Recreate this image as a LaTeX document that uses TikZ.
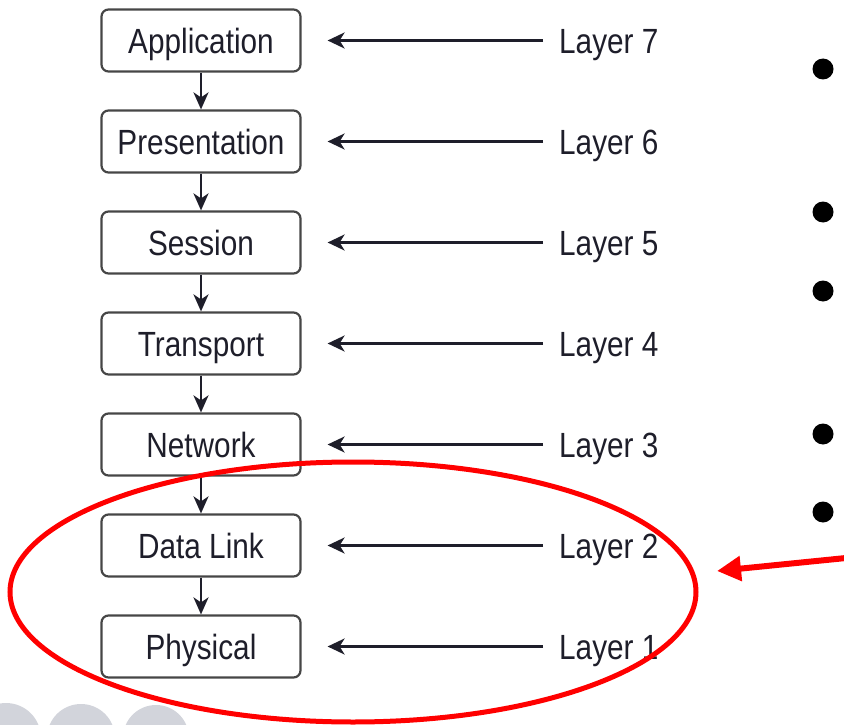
\documentclass[tikz,border=0pt]{standalone}
\usepackage{fontspec}
\setmainfont{Liberation Sans}[FakeStretch=0.85]
\usetikzlibrary{arrows.meta,shapes.geometric}
\definecolor{inkc}{RGB}{30,30,42}
\definecolor{framec}{RGB}{70,70,70}
\definecolor{marker}{RGB}{255,0,0}
\definecolor{faint}{RGB}{210,212,219}
\tikzset{
  x=1pt, y=-1pt,
  layerbox/.style={draw=framec, line width=2.2pt, rounded corners=7pt,
    minimum width=199pt, minimum height=62pt, inner sep=0pt,
    text height=26pt, text depth=0pt, text=inkc, font=\fontsize{35}{35}\selectfont},
  layertag/.style={anchor=west, inner sep=0pt, text height=26pt, text depth=0pt,
    text=inkc, font=\fontsize{35}{35}\selectfont},
  downarrow/.style={draw=inkc, line width=2.4pt, -{Stealth[length=17pt,width=15pt,inset=5pt]}},
  leftarrow/.style={draw=inkc, line width=2.4pt, -{Stealth[length=17pt,width=16pt,inset=5pt]}},
  bulletdot/.style={fill=black, circle, inner sep=0pt, minimum size=21pt},
}
\begin{document}
\begin{tikzpicture}
\useasboundingbox (0,0) rectangle (844,725);
\begin{scope}
  \clip (0,0) rectangle (844,725);
  \fill[faint] (6,738) circle (35);
  \fill[faint] (81,738) circle (34);
  \fill[faint] (156,738) circle (33);
\end{scope}

% protocol stack
\node[layerbox] (b7) at (201,40.5) {Application};
\node[layerbox] (b6) at (201,141.5) {Presentation};
\node[layerbox] (b5) at (201,242.5) {Session};
\node[layerbox] (b4) at (201,343.5) {Transport};
\node[layerbox] (b3) at (201,444.5) {Network};
\node[layerbox] (b2) at (201,545.5) {Data Link};
\node[layerbox] (b1) at (201,646.5) {Physical};

\foreach \a/\b in {b7/b6,b6/b5,b5/b4,b4/b3,b3/b2,b2/b1}
  \draw[downarrow] (\a.south) -- (\b.north);

% layer numbers
\node[layertag] (l7) at (559,40.5) {Layer 7};
\node[layertag] (l6) at (559,141.5) {Layer 6};
\node[layertag] (l5) at (559,242.5) {Layer 5};
\node[layertag] (l4) at (559,343.5) {Layer 4};
\node[layertag] (l3) at (559,444.5) {Layer 3};
\node[layertag] (l2) at (559,545.5) {Layer 2};
\node[layertag] (l1) at (559,646.5) {Layer 1};

\foreach \i in {1,...,7}
  \draw[leftarrow] ([xshift=-16pt]l\i.west) -- ([xshift=26pt]b\i.east);

% highlight of the two lowest layers
\node[draw=marker, line width=5pt, ellipse, minimum width=686pt, minimum height=260pt, inner sep=0pt] (ring) at (353,592) {};

% bullets
\node[bulletdot] (d1) at (823,69) {};
\node[bulletdot] (d2) at (823,212) {};
\node[bulletdot] (d3) at (823,291) {};
\node[bulletdot] (d4) at (823,434) {};
\node[bulletdot] (d5) at (823,512) {};

\coordinate (rs) at (846,558);
\coordinate (re) at (717,571);
\draw[marker, line width=6pt, -{Triangle[length=24pt,width=24pt]}] (rs) -- (re);
\end{tikzpicture}
\end{document}
